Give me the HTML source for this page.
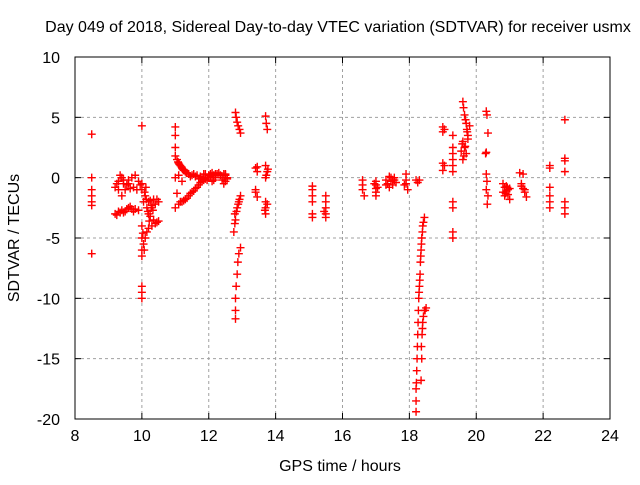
<!DOCTYPE html>
<html><head><meta charset="utf-8">
<style>
body{margin:0;background:#fff;}
svg text{font-family:"Liberation Sans",sans-serif;font-size:16px;fill:#000;}
</style></head>
<body>
<svg id="chart" width="640" height="480" xmlns="http://www.w3.org/2000/svg">
<text x="338" y="32" text-anchor="middle">Day 049 of 2018, Sidereal Day-to-day VTEC variation (SDTVAR) for receiver usmx</text>
<text x="340" y="471" text-anchor="middle">GPS time / hours</text>
<text x="0" y="0" transform="translate(19,238) rotate(-90)" text-anchor="middle">SDTVAR / TECUs</text>
<g id="grid"></g><g id="axes"></g><g id="pts"></g>
</svg>
<script>
const xTicks=[8,10,12,14,16,18,20,22,24];
const yTicks=[10,5,0,-5,-10,-15,-20];
const xs=[8.5,8.5,8.5,8.5,8.5,8.5,8.5,
9.2,9.3,9.35,9.4,9.45,9.5,9.55,9.6,9.7,9.8,9.9,9.3,9.4,9.6,9.75,9.85,9.25,9.45,9.65,9.95,
9.2,9.3,9.4,9.5,9.6,9.7,9.8,9.9,9.35,9.65,9.25,9.45,9.55,9.75,
10,10,10,10.05,10,10,10,10,10,10,10,10.05,10.1,10.15,10.2,10.3,10.4,10.5,10.1,10.2,10.3,10.4,10.5,10.15,10.2,10.25,10.35,10.45,10.08,10.12,10.03,10.07,10.13,10.18,10.25,10.35,10.45,10.22,10.28,10.33,
11,11,11,11,11.05,11.1,11.15,11.2,11.3,11.4,11.5,11.6,11.8,12,12.2,12.4,12.5,11.25,11.35,11.45,11.7,11.9,12.1,12.3,11.08,11.12,11.18,11.22,11.28,11.33,11.55,11.65,11.75,11.85,11.95,12.05,12.15,12.25,12.35,12.45,12.55,
11,11.1,11.2,11.3,11.4,11.5,11.6,11.7,11.8,11.9,12,12.1,12.2,11.05,11.15,11,11.1,11.2,11.25,11.35,11.45,11.55,11.65,11.75,11.85,11.95,12.05,12.15,
12.45,12.5,12.5,12.4,12.55,
12.8,12.82,12.85,12.88,12.92,12.95,12.75,12.8,12.85,12.9,12.95,12.78,12.8,12.8,12.8,12.82,12.85,12.87,12.9,12.95,12.83,12.78,12.88,12.92,
13.4,13.4,13.45,13.45,13.4,13.45,
13.7,13.72,13.75,13.7,13.75,13.7,13.7,13.7,13.7,13.75,13.72,13.68,13.77,
15.1,15.1,15.1,15.1,15.1,15.1,15.5,15.5,15.5,15.5,15.5,15.45,
16.6,16.6,16.6,16.65,17,17,17,17,17,17.3,17.35,17.4,17.45,17.5,17.55,17.6,17.4,17.5,17.9,17.9,17.9,17.95,17.85,18.2,18.25,18.3,17.3,17.45,17.55,16.95,17.05,
18.2,18.2,18.2,18.22,18.23,18.25,18.27,18.28,18.3,18.32,18.33,18.35,18.37,18.4,18.45,18.21,18.24,18.26,18.29,18.31,18.34,18.36,18.39,18.42,
18.35,18.37,18.38,18.4,18.45,18.5,18.36,18.39,18.42,18.47,
19,19,19,19,19.05,19.05,
19.3,19.3,19.3,19.3,19.3,19.3,19.3,19.3,19.3,19.3,
19.6,19.62,19.65,19.68,19.7,19.72,19.75,19.6,19.65,19.7,19.6,19.75,19.8,19.55,19.58,19.63,19.67,19.73,
20.3,20.32,20.35,20.3,20.28,20.3,20.32,20.3,20.35,20.33,
20.8,20.85,20.9,20.95,21,20.85,20.9,20.95,20.8,21,20.88,20.93,
21.3,21.35,21.4,21.45,21.5,21.4,21.35,21.45,
22.2,22.2,22.2,22.2,22.2,22.2,
22.65,22.65,22.65,22.65,22.65,22.65,22.65];
const ys=[3.6,0,-1,-1.5,-2,-2.3,-6.3,
-0.8,-0.3,0.2,0,-0.5,-1,-0.6,-0.2,0,0.2,-0.3,-1,-1.5,-0.5,-0.8,-1,-0.5,-0.2,-0.9,-0.6,
-3,-2.8,-2.7,-2.8,-2.5,-2.6,-2.6,-2.7,-2.9,-2.4,-3.1,-2.9,-2.6,-2.8,
4.3,-0.5,-1,-2,-4,-5,-6,-6.5,-9,-9.5,-10,-5.5,-5,-4.5,-4.2,-4,-3.8,-3.6,-1.5,-2,-2.3,-2.2,-2,-2.5,-3,-3.2,-3.5,-3.7,-1.2,-0.8,-4.6,-6,-1.8,-2.8,-1.9,-1.8,-1.8,-3.6,-2.5,-2.7,
4.2,3.5,2.5,1.8,1.5,1.2,1,0.8,0.5,0.3,0.2,0.1,0,0,0,0,0.2,0.6,0.4,0.1,-0.1,0.3,-0.3,0.4,1.3,1.1,0.9,0.7,0.6,0.4,0.3,0.2,0.1,0.3,-0.2,0.1,-0.2,0.3,0.2,0.3,-0.1,
-2.5,-2.2,-2,-1.8,-1.5,-1.2,-0.9,-0.6,-0.3,-0.1,0.2,0.4,0.3,-1.3,-2,0,0.2,-0.3,-1.9,-1.7,-1.3,-1.1,-0.8,-0.4,-0.2,0,0.3,0.2,
-0.5,-0.3,0.3,-0.2,0,
5.4,5,4.6,4.3,4,3.7,-4.5,-3.5,-2.5,-2,-1.5,-3,-11.7,-11,-10,-9,-8,-7,-6.3,-5.8,-2.8,-3.8,-2.2,-1.8,
0.8,-1.2,-1.6,0.5,-1,0.9,
5.1,4.5,4,1,0.5,0,-2,-2.5,-3,-2.2,0.2,-2.7,0.7,
-0.7,-1,-1.5,-2,-3,-3.3,-1.5,-2,-2.5,-3,-3.3,-2.8,
-0.2,-0.6,-1,-1.5,-0.3,-0.6,-0.9,-1.2,-1.5,-0.2,-0.5,-0.8,-0.3,-0.6,0,-0.4,0.1,-0.2,0.3,-0.2,-0.5,-1,-0.6,-0.2,-0.4,-0.2,-0.6,0,-0.2,-0.5,-0.8,
-19.4,-18.5,-17.5,-16,-15,-13,-11,-10,-9,-8,-7,-6,-5,-4,-3.3,-17,-14,-12,-9.5,-8.5,-6.5,-5.5,-4.5,-3.7,
-16.8,-15,-13,-12,-11,-10.8,-14,-12.5,-11.5,-11,
4.2,3.8,1.2,0.6,4,1,
3.5,2.5,2,1.5,1,0.5,-2,-2.5,-4.5,-5,
6.3,5.8,5.2,4.8,4.5,4,3.5,3,2.5,2,1.5,3.2,4.3,2.2,2.8,1.8,2.6,3.8,
5.5,5.2,3.7,2.1,2,0.3,-0.3,-1,-1.5,-2.2,
-0.5,-0.8,-1.1,-1.4,-1.8,-1.5,-0.7,-1,-1.2,-0.9,-1.3,-0.8,
0.4,-0.5,-0.9,-1.2,-1.6,0.3,-0.7,-1,
1,0.8,-0.8,-1.5,-2,-2.5,
4.8,1.6,1.4,0.5,-2,-2.5,-3];
const L=75,R=610,T=57,B=419;
const sx=v=>L+(v-8)/16*(R-L);
const sy=v=>T+(10-v)/30*(B-T);
const NS="http://www.w3.org/2000/svg";
function mk(tag,at,parent){const e=document.createElementNS(NS,tag);for(const k in at)e.setAttribute(k,at[k]);parent.appendChild(e);return e;}
const grid=document.getElementById('grid'),axes=document.getElementById('axes'),pts=document.getElementById('pts');
xTicks.forEach(t=>{const x=sx(t);
 if(t>8&&t<24){const g=mk('line',{x1:x,x2:x,y1:T,y2:B,stroke:'#a0a0a0','stroke-dasharray':'3,3'},grid);
 
 }
 mk('line',{x1:x,x2:x,y1:B,y2:B-6,stroke:'#000'},axes);
 mk('line',{x1:x,x2:x,y1:T,y2:T+6,stroke:'#000'},axes);
 const tx=mk('text',{x:x,y:B+22,'text-anchor':'middle'},axes);tx.textContent=t;
 
 
});
yTicks.forEach(t=>{const y=sy(t);
 if(t<10&&t>-20){const g=mk('line',{x1:L,x2:R,y1:y,y2:y,stroke:'#a0a0a0','stroke-dasharray':'3,3'},grid);
 
 }
 mk('line',{x1:L,x2:L+6,y1:y,y2:y,stroke:'#000'},axes);
 mk('line',{x1:R,x2:R-6,y1:y,y2:y,stroke:'#000'},axes);
 const tx=mk('text',{x:L-15,y:y+6,'text-anchor':'end'},axes);tx.textContent=t;
 
 
});
const fr=mk('rect',{x:L,y:T,width:R-L,height:B-T,fill:'none',stroke:'#000'},axes);


for(let i=0;i<xs.length;i++){const x=sx(xs[i]),y=sy(ys[i]);
 const p=mk('path',{d:`M${x-4},${y}H${x+4}M${x},${y-4}V${y+4}`,stroke:'#f00','stroke-width':1.4,fill:'none'},pts);
 
 
}
</script>
</body></html>
